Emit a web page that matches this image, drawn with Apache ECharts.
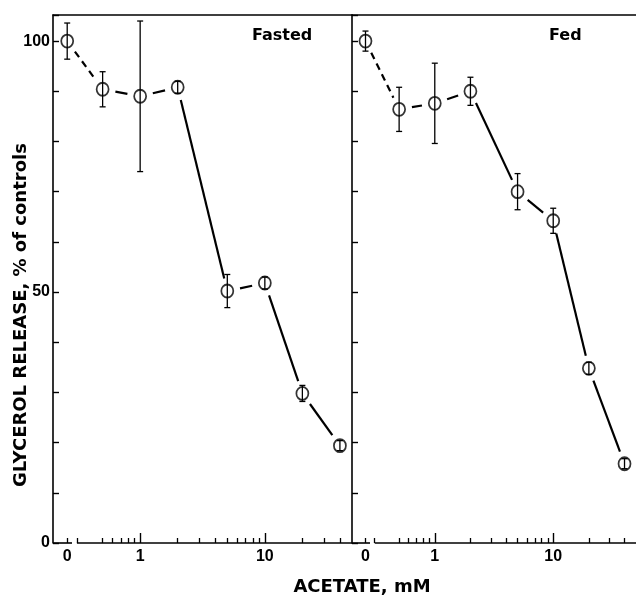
<!DOCTYPE html>
<html><head><meta charset="utf-8">
<script src="https://cdn.jsdelivr.net/npm/echarts@6/dist/echarts.min.js"></script>
<style>html,body{margin:0;padding:0;background:#fff}#c{width:636px;height:595px}</style>
</head><body><div id="c"></div>
<script>
// ---- data ----
const concentrations = [0, 0.5, 1, 2, 5, 10, 20, 40];          // acetate, mM
const fastedMean = [100, 90.4, 89, 90.8, 50.2, 51.8, 29.8, 19.4]; // % of controls
const fastedErr  = [3.6, 3.5, 15, 1.2, 3.3, 1.2, 1.6, 1.0];
const fedMean    = [100, 86.4, 87.6, 90, 70, 64.2, 34.8, 15.8];
const fedErr     = [2.0, 4.4, 8.0, 2.8, 3.6, 2.5, 1.2, 1.0];
const panelTitles = ['Fasted', 'Fed'];
const xTickLabels = ['0', '1', '10'];
const yTickLabels = [0, 50, 100];

// ---- axis helpers ----
const ZERO_AT = 0.26;           // where the "0" concentration is drawn on the broken log axis
const BREAK_END = 0.284, BREAK_START = 0.311;
const XMIN = 0.2, XMAX = 50;
const lg = v => Math.log10(v === 0 ? ZERO_AT : v);
const xMin = Math.log10(XMIN), xMax = Math.log10(XMAX);
const minorVals = [0.5,0.6,0.7,0.8,0.9,2,3,4,5,6,7,8,9,20,30,40].map(Math.log10)
  .concat([Math.log10(ZERO_AT), Math.log10(BREAK_START)]);
const majorVals = [0, 1];
const labelVals = [Math.log10(ZERO_AT), 0, 1];

const chart = echarts.init(document.getElementById('c'));
const FONT_TICK = 'Liberation Sans';
const GAP = 13;   // blank space between connecting lines and marker centres (px)

const grids = [], xAxes = [], yAxes = [], series = [];
[fastedMean, fedMean].forEach((mean, g) => {
  const err = g === 0 ? fastedErr : fedErr;
  grids.push({ left: 53 + g * 299, top: 15, width: 299, height: 528 });
  // major ticks + labels
  xAxes.push({ type: 'value', gridIndex: g, min: xMin, max: xMax, position: 'bottom', z: 10,
    axisLine: { show: false, onZero: false }, splitLine: { show: false },
    axisTick: { inside: true, length: 10, customValues: majorVals, lineStyle: { color: '#000', width: 1.4 } },
    axisLabel: { customValues: labelVals, margin: 6, color: '#000', fontFamily: FONT_TICK, fontWeight: 'bold', fontSize: 16,
      formatter: v => v < -0.3 ? xTickLabels[0] : (Math.abs(v) < 1e-9 ? xTickLabels[1] : xTickLabels[2]) } });
  // minor ticks
  xAxes.push({ type: 'value', gridIndex: g, min: xMin, max: xMax, position: 'bottom', z: 10,
    axisLine: { show: false, onZero: false }, splitLine: { show: false }, axisLabel: { show: false },
    axisTick: { inside: true, length: 5, customValues: minorVals, lineStyle: { color: '#000', width: 1.3 } } });
  // top frame
  xAxes.push({ type: 'value', gridIndex: g, min: xMin, max: xMax, position: 'top', z: 10,
    axisLine: { show: true, onZero: false, lineStyle: { color: '#000', width: 1.5 } }, axisTick: { show: false },
    axisLabel: { show: false }, splitLine: { show: false } });
  yAxes.push({ type: 'value', gridIndex: g, min: 0, max: 105.2, interval: 10, z: 10, position: 'left',
    axisLine: { show: true, onZero: false, lineStyle: { color: '#000', width: 1.6 } }, splitLine: { show: false },
    axisTick: { inside: true, length: 6, lineStyle: { color: '#000', width: 1.4 } },
    axisLabel: { show: g === 0, margin: 3, color: '#000', fontFamily: FONT_TICK, fontWeight: 'bold', fontSize: 16,
      formatter: v => yTickLabels.includes(v) ? String(v) : '' } });

  const xa = g * 3, ya = g;
  const pts = concentrations.map((c, i) => [lg(c), mean[i], err[i]]);
  // connecting segments, shortened at both ends (first one dashed)
  const segs = pts.slice(0, -1).map((p, i) => [p[0], p[1], pts[i + 1][0], pts[i + 1][1], i === 0 ? 1 : 0]);
  series.push({ type: 'custom', xAxisIndex: xa, yAxisIndex: ya, z: 2, animation: false, clip: false,
    data: segs,
    renderItem: (params, api) => {
      const a = api.coord([api.value(0), api.value(1)]);
      const b = api.coord([api.value(2), api.value(3)]);
      const dx = b[0] - a[0], dy = b[1] - a[1], L = Math.hypot(dx, dy);
      const ux = dx / L, uy = dy / L;
      const dashed = api.value(4) === 1;
      return { type: 'line',
        shape: { x1: a[0] + ux * GAP, y1: a[1] + uy * GAP, x2: b[0] - ux * GAP, y2: b[1] - uy * GAP },
        style: { stroke: '#000', lineWidth: 2.2, lineDash: dashed ? [7, 5] : null } };
    } });
  // open circles
  series.push({ type: 'scatter', xAxisIndex: xa, yAxisIndex: ya, z: 4, symbol: 'circle', symbolSize: [12, 13], animation: false,
    data: pts, itemStyle: { color: '#fff', borderColor: '#000', borderWidth: 1.8 }, clip: false });
  // error bars
  series.push({ type: 'custom', xAxisIndex: xa, yAxisIndex: ya, z: 5, animation: false, clip: false,
    data: pts,
    renderItem: (params, api) => {
      const x = api.value(0), m = api.value(1), e = api.value(2);
      const hi = api.coord([x, m + e]), lo = api.coord([x, m - e]);
      const st = { stroke: '#000', lineWidth: 1.3 };
      return { type: 'group', children: [
        { type: 'line', shape: { x1: hi[0], y1: hi[1], x2: lo[0], y2: lo[1] }, style: st },
        { type: 'line', shape: { x1: hi[0] - 3, y1: hi[1], x2: hi[0] + 3, y2: hi[1] }, style: st },
        { type: 'line', shape: { x1: lo[0] - 3, y1: lo[1], x2: lo[0] + 3, y2: lo[1] }, style: st }
      ] };
    } });
  // bottom axis line with a break after the zero point
  series.push({ type: 'line', xAxisIndex: xa, yAxisIndex: ya, z: 6, symbol: 'none', animation: false, clip: false, silent: true,
    data: [[xMin, 0], [Math.log10(BREAK_END), 0]], lineStyle: { color: '#000', width: 1.6 } });
  series.push({ type: 'line', xAxisIndex: xa, yAxisIndex: ya, z: 6, symbol: 'none', animation: false, clip: false, silent: true,
    data: [[Math.log10(BREAK_START), 0], [xMax, 0]], lineStyle: { color: '#000', width: 1.6 } });
});

chart.setOption({
  animation: false,
  backgroundColor: '#fff',
  grid: grids, xAxis: xAxes, yAxis: yAxes, series: series,
  graphic: [
    { type: 'text', x: 252, y: 36, style: { text: panelTitles[0], textAlign: 'left', textVerticalAlign: 'middle', font: 'bold 16px "DejaVu Sans"', fill: '#000' } },
    { type: 'text', x: 549, y: 36, style: { text: panelTitles[1], textAlign: 'left', textVerticalAlign: 'middle', font: 'bold 16px "DejaVu Sans"', fill: '#000' } },
    { type: 'text', x: 362, y: 587, style: { text: 'ACETATE, mM', textAlign: 'center', textVerticalAlign: 'middle', font: 'bold 18px "DejaVu Sans"', fill: '#000' } },
    { type: 'text', x: 21, y: 315, rotation: Math.PI / 2, style: { text: 'GLYCEROL RELEASE, % of controls', textAlign: 'center', textVerticalAlign: 'middle', font: 'bold 18px "DejaVu Sans"', fill: '#000' } }
  ]
});
</script></body></html>
